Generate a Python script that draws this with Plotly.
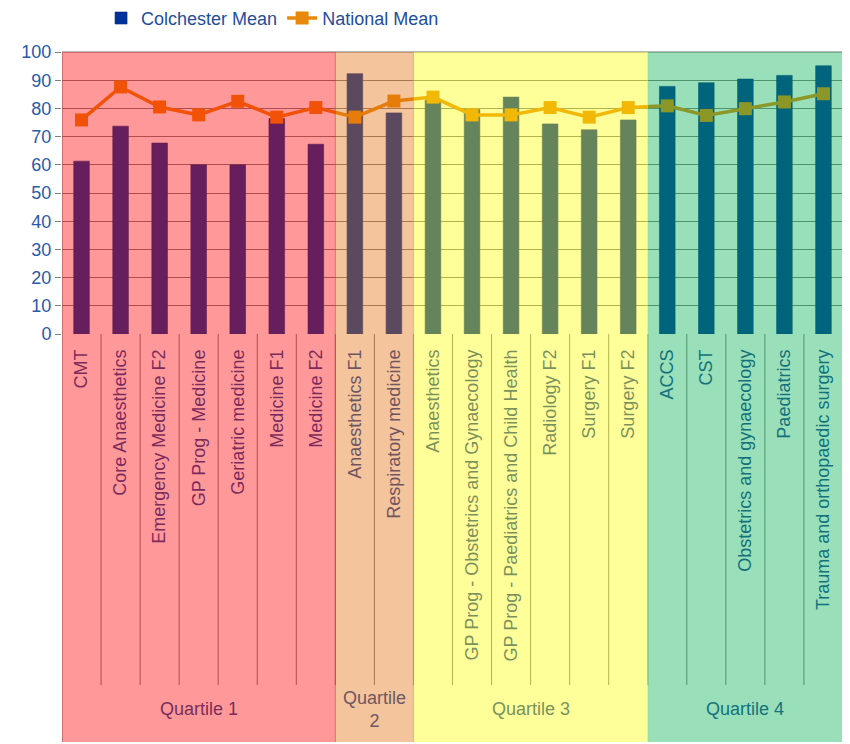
import plotly.graph_objects as go

categories = ["CMT", "Core Anaesthetics", "Emergency Medicine F2", "GP Prog - Medicine",
              "Geriatric medicine", "Medicine F1", "Medicine F2",
              "Anaesthetics F1", "Respiratory medicine",
              "Anaesthetics", "GP Prog - Obstetrics and Gynaecology",
              "GP Prog - Paediatrics and Child Health", "Radiology F2", "Surgery F1", "Surgery F2",
              "ACCS", "CST", "Obstetrics and gynaecology", "Paediatrics", "Trauma and orthopaedic surgery"]
colchester_mean = [61.3, 73.7, 67.7, 60.0, 60.0, 76.4, 67.3,
                   92.3, 78.4,
                   83.0, 79.6, 84.0, 74.5, 72.4, 75.9,
                   87.8, 89.1, 90.4, 91.7, 95.1]
national_mean = [75.9, 87.6, 80.5, 77.7, 82.5, 76.9, 80.3,
                 76.9, 82.6,
                 84.0, 77.7, 77.7, 80.3, 76.9, 80.3,
                 80.9, 77.5, 79.9, 82.3, 85.2]
quartile_labels = ["Quartile 1", "Quartile<br>2", "Quartile 3", "Quartile 4"]
quartile_sizes = [7, 2, 6, 5]

overlay_colors = ["#FF0000", "#E46C0A", "#FFFF00", "#00B050"]
label_colors = ["#792C5D", "#6E5761", "#79925D", "#13727D"]
TEXT_BLUE = "#1F4999"
BOTTOM = -1.447  # paper y of the bottom of the label area

fig = go.Figure()
fig.add_trace(go.Bar(x=categories, y=colchester_mean, name="Colchester Mean",
                     marker=dict(color="#003399", line=dict(color="#002A80", width=0.6)),
                     width=0.4))
fig.add_trace(go.Scatter(x=categories, y=national_mean, name="National Mean",
                         mode="lines+markers",
                         line=dict(color="#E8890C", width=3.5),
                         marker=dict(symbol="square", size=13, color="#E8890C")))

shapes = []
annotations = []
n = len(categories)
# divider lines between categories in the label area
for i in range(n - 1):
    shapes.append(dict(type="line", xref="x", yref="paper", x0=i + 0.5, x1=i + 0.5,
                       y0=-1.245, y1=0, line=dict(color="#808080", width=1), layer="below"))
# axis frame
shapes.append(dict(type="line", xref="x", yref="paper", x0=-0.5, x1=-0.5, y0=BOTTOM, y1=1,
                   line=dict(color="#A0A0A0", width=1.5), layer="below"))
shapes.append(dict(type="line", xref="x", yref="paper", x0=-0.5, x1=n - 0.5, y0=1, y1=1,
                   line=dict(color="#A0A0A0", width=1.5), layer="below"))
shapes.append(dict(type="line", xref="x", yref="paper", x0=n - 0.5, x1=n - 0.5, y0=BOTTOM, y1=1,
                   line=dict(color="#A0A0A0", width=1.5), layer="below"))

start = 0
for q, size in enumerate(quartile_sizes):
    x0 = start - 0.5
    x1 = start + size - 0.5
    shapes.append(dict(type="rect", xref="x", yref="paper", x0=x0, x1=x1, y0=BOTTOM, y1=1,
                       fillcolor=overlay_colors[q], opacity=0.4,
                       line=dict(width=0), layer="above"))
    shapes.append(dict(type="line", xref="x", yref="paper", x0=x1, x1=x1, y0=BOTTOM, y1=1,
                       line=dict(color=overlay_colors[q], width=1), opacity=0.5, layer="above"))
    annotations.append(dict(x=(x0 + x1) / 2, y=-1.33, xref="x", yref="paper",
                            text=quartile_labels[q], showarrow=False,
                            font=dict(size=18, color=label_colors[q],
                                      family="Liberation Sans, Arial, sans-serif"),
                            yanchor="middle", xanchor="center"))
    start += size

fig.update_layout(
    width=842, height=736,
    margin=dict(l=54, r=7, t=44, b=410, autoexpand=False),
    paper_bgcolor="white", plot_bgcolor="white",
    font=dict(family="Liberation Sans, Arial, sans-serif", color=TEXT_BLUE),
    bargap=0.6,
    shapes=shapes,
    annotations=annotations,
    showlegend=True,
    legend=dict(orientation="h", x=0.05, xanchor="left", y=1.185, yanchor="top",
                yref="paper",
                font=dict(size=18, color="#1F4E9A",
                          family="Liberation Sans Narrow, Liberation Sans, Arial, sans-serif"),
                bgcolor="rgba(0,0,0,0)", traceorder="normal", itemwidth=30),
    xaxis=dict(tickangle=-90, tickfont=dict(size=18, color=TEXT_BLUE),
               ticks="", showgrid=False, showline=False, ticklabelstandoff=11,
               range=[-0.5, n - 0.5], automargin=False),
    yaxis=dict(range=[0, 100], dtick=10, tickfont=dict(size=18, color="#2A5AAA"),
               showgrid=True, gridcolor="#808080", gridwidth=1,
               ticks="outside", ticklen=6, tickcolor="#808080",
               showline=False, zeroline=False, automargin=False),
)

fig.write_html("out.html")
